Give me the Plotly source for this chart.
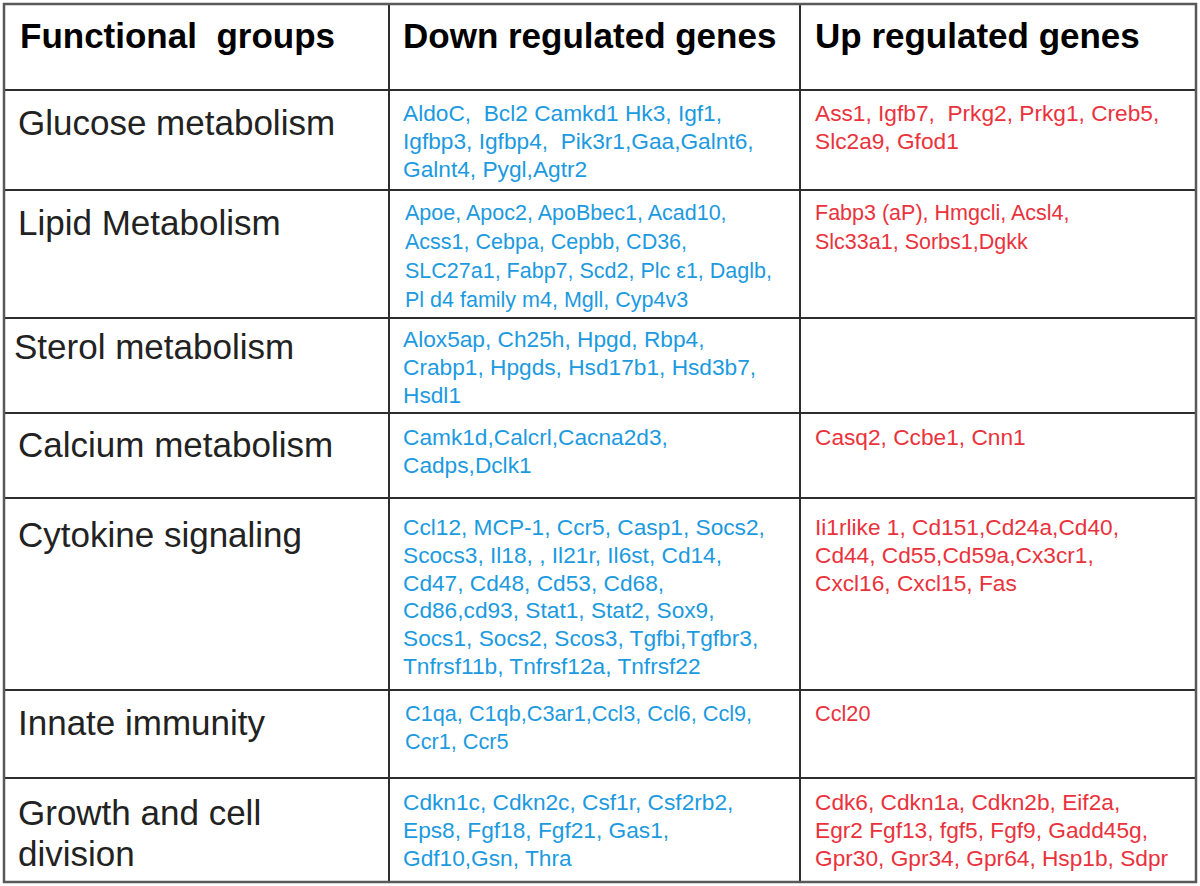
import plotly.graph_objects as go

# ---------------- data ----------------
headers = ["Functional  groups", "Down regulated genes", "Up regulated genes"]

groups = [
    ["Glucose metabolism"],
    ["Lipid Metabolism"],
    ["Sterol metabolism"],
    ["Calcium metabolism"],
    ["Cytokine signaling"],
    ["Innate immunity"],
    ["Growth and cell", "division"],
]

down_genes = [
    ["AldoC,  Bcl2 Camkd1 Hk3, Igf1,",
     "Igfbp3, Igfbp4,  Pik3r1,Gaa,Galnt6,",
     "Galnt4, Pygl,Agtr2"],
    ["Apoe, Apoc2, ApoBbec1, Acad10,",
     "Acss1, Cebpa, Cepbb, CD36,",
     "SLC27a1, Fabp7, Scd2, Plc \u03b51, Daglb,",
     "Pl d4 family m4, Mgll, Cyp4v3"],
    ["Alox5ap, Ch25h, Hpgd, Rbp4,",
     "Crabp1, Hpgds, Hsd17b1, Hsd3b7,",
     "Hsdl1"],
    ["Camk1d,Calcrl,Cacna2d3,",
     "Cadps,Dclk1"],
    ["Ccl12, MCP-1, Ccr5, Casp1, Socs2,",
     "Scocs3, Il18, , Il21r, Il6st, Cd14,",
     "Cd47, Cd48, Cd53, Cd68,",
     "Cd86,cd93, Stat1, Stat2, Sox9,",
     "Socs1, Socs2, Scos3, Tgfbi,Tgfbr3,",
     "Tnfrsf11b, Tnfrsf12a, Tnfrsf22"],
    ["C1qa, C1qb,C3ar1,Ccl3, Ccl6, Ccl9,",
     "Ccr1, Ccr5"],
    ["Cdkn1c, Cdkn2c, Csf1r, Csf2rb2,",
     "Eps8, Fgf18, Fgf21, Gas1,",
     "Gdf10,Gsn, Thra"],
]

up_genes = [
    ["Ass1, Igfb7,  Prkg2, Prkg1, Creb5,",
     "Slc2a9, Gfod1"],
    ["Fabp3 (aP), Hmgcli, Acsl4,",
     "Slc33a1, Sorbs1,Dgkk"],
    [],
    ["Casq2, Ccbe1, Cnn1"],
    ["Ii1rlike 1, Cd151,Cd24a,Cd40,",
     "Cd44, Cd55,Cd59a,Cx3cr1,",
     "Cxcl16, Cxcl15, Fas"],
    ["Ccl20"],
    ["Cdk6, Cdkn1a, Cdkn2b, Eif2a,",
     "Egr2 Fgf13, fgf5, Fgf9, Gadd45g,",
     "Gpr30, Gpr34, Gpr64, Hsp1b, Sdpr"],
]

# ---------------- layout config ----------------
W, H = 1200, 886
X_LEFT, X_C1, X_C2, X_RIGHT = 4, 389, 800, 1196
Y_TOP = 4
ROW_EDGES = [90, 190, 318, 413, 498, 690, 778, 882]

GROUP_X = [16, 16, 12, 16, 16, 16, 16]
GROUP_FIRST = [32, 32, 28, 31, 36, 32, 34]
GROUP_STEP = 41
DOWN_X = [401, 403, 401, 401, 401, 403, 401]
UP_X = 813
GENE_FIRST = [23, 23, 21, 24, 29, 23, 24]
GENE_STEP = [28, 29, 28, 28, 27.8, 28, 28]
GENE_SIZE = [22.7, 21.5, 22.7, 22.7, 22.7, 21.7, 22.7]

FONT = "Liberation Sans, Arial, Helvetica, sans-serif"
BLUE = "rgb(28,154,224)"
RED = "rgb(234,50,60)"
LABEL = "rgb(34,34,34)"
LINE = "rgb(45,45,45)"

fig = go.Figure()
fig.add_trace(go.Scatter(x=[0, W], y=[0, H], mode="markers",
                         marker=dict(opacity=0), hoverinfo="skip", showlegend=False))

annotations = []
shapes = []

def add_text(x, y, text, size, color, bold=False):
    annotations.append(dict(
        x=x, y=y, xref="x", yref="y", text=("<b>%s</b>" % text) if bold else text,
        showarrow=False, xanchor="left", yanchor="middle",
        font=dict(family=FONT, size=size, color=color)))

# headers
for hx, htxt in zip([18, 401, 813], headers):
    add_text(hx, 35, htxt.replace("  ", "&nbsp; "), 35, "black", bold=True)

tops = ROW_EDGES[:-1]
for i, top in enumerate(tops):
    for j, line in enumerate(groups[i]):
        add_text(GROUP_X[i], top + GROUP_FIRST[i] + j * GROUP_STEP, line, 35, LABEL)
    for j, line in enumerate(down_genes[i]):
        add_text(DOWN_X[i], top + GENE_FIRST[i] + j * GENE_STEP[i],
                 line.replace("  ", "&nbsp; "), GENE_SIZE[i], BLUE)
    for j, line in enumerate(up_genes[i]):
        add_text(UP_X, top + GENE_FIRST[i] + j * GENE_STEP[i],
                 line.replace("  ", "&nbsp; "), GENE_SIZE[i], RED)

# grid lines
for y in ROW_EDGES[:-1]:
    shapes.append(dict(type="line", xref="x", yref="y", x0=X_LEFT, x1=X_RIGHT, y0=y, y1=y,
                       line=dict(color=LINE, width=2)))
for x in [X_C1, X_C2]:
    shapes.append(dict(type="line", xref="x", yref="y", x0=x, x1=x, y0=Y_TOP, y1=ROW_EDGES[-1],
                       line=dict(color=LINE, width=2)))
shapes.append(dict(type="rect", xref="x", yref="y", x0=X_LEFT, x1=X_RIGHT, y0=Y_TOP,
                   y1=ROW_EDGES[-1], line=dict(color="rgb(90,90,90)", width=2.5)))

fig.update_layout(
    width=W, height=H, margin=dict(l=0, r=0, t=0, b=0),
    paper_bgcolor="white", plot_bgcolor="white",
    xaxis=dict(range=[0, W], visible=False, fixedrange=True),
    yaxis=dict(range=[H, 0], visible=False, fixedrange=True),
    annotations=annotations, shapes=shapes, showlegend=False,
)

fig.write_html("out.html", config={"displayModeBar": False},
               post_script="document.body.style.margin='0';document.body.style.overflow='hidden';")
